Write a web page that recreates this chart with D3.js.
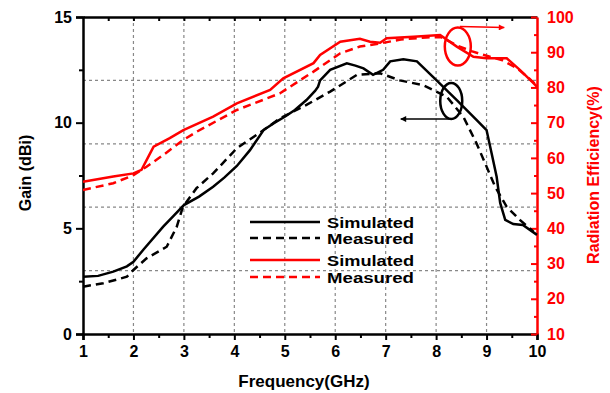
<!DOCTYPE html>
<html>
<head>
<meta charset="utf-8">
<style>
body { margin: 0; background: #fff; }
text { font-family: Arial, "Liberation Sans", sans-serif; font-weight: bold; }
</style>
</head>
<body>
<div id="chart"></div>
<script src="https://d3js.org/d3.v7.min.js"></script>
<script>
// frequency (GHz) / gain (dBi) / efficiency (%)
var gainSimF = [1, 1.3, 1.6, 1.87, 2.0, 2.2, 2.59, 2.8, 3.0, 3.3, 3.58, 3.8, 4.05, 4.31, 4.58, 4.8, 5.0, 5.2, 5.43, 5.6, 5.66, 5.7, 5.9, 6.23, 6.4, 6.56, 6.75, 6.95, 7.09, 7.35, 7.62, 8.01, 8.41, 8.8, 9.0, 9.1, 9.2, 9.27, 9.37, 9.53, 9.72, 10];
var gainSim  = [2.71, 2.75, 2.95, 3.2, 3.42, 4.0, 5.08, 5.6, 6.1, 6.5, 6.97, 7.4, 7.95, 8.7, 9.65, 10.0, 10.28, 10.6, 11.07, 11.5, 11.7, 12.0, 12.5, 12.81, 12.7, 12.57, 12.26, 12.5, 12.9, 13.0, 12.9, 12.0, 11.07, 10.13, 9.65, 8.55, 7.44, 6.2, 5.4, 5.2, 5.16, 4.69];

var gainMeasF = [1, 1.4, 1.87, 2.0, 2.26, 2.66, 2.86, 2.98, 3.25, 3.58, 4.05, 4.58, 4.9, 5.43, 5.9, 6.43, 6.89, 7.28, 7.74, 8.21, 8.54, 8.8, 9.0, 9.17, 9.4, 9.66, 9.93];
var gainMeas  = [2.24, 2.4, 2.71, 3.03, 3.58, 4.13, 5.08, 6.02, 6.9, 7.6, 8.79, 9.65, 10.2, 10.84, 11.47, 12.26, 12.34, 12.0, 11.78, 11.23, 10.28, 9.03, 7.92, 6.97, 6.02, 5.4, 4.84];

var effSimF = [1, 1.6, 2.0, 2.16, 2.33, 2.4, 2.72, 2.99, 3.58, 4.05, 4.71, 4.97, 5.57, 5.7, 6.1, 6.49, 6.69, 6.89, 7.02, 7.55, 8.08, 8.41, 8.74, 9.0, 9.4, 9.66, 9.93, 10];
var effSim  = [53.2, 54.7, 55.6, 56.6, 61.3, 63.2, 65.6, 67.9, 71.7, 75.5, 79.3, 82.6, 86.9, 89.2, 93.0, 93.8, 93.0, 92.7, 94.0, 94.4, 94.9, 91.6, 88.7, 88.3, 88.3, 85.0, 81.2, 80.2];

var effMeasF = [1, 1.6, 2.0, 2.26, 2.59, 2.99, 3.25, 4.05, 4.9, 5.57, 6.1, 6.49, 6.89, 7.3, 7.8, 8.1, 8.4, 8.7, 9.0, 9.3, 9.6, 9.85, 10];
var effMeas  = [50.9, 52.8, 55.1, 57.5, 60.8, 65.1, 67.4, 73.6, 78.3, 84.5, 89.7, 91.6, 92.5, 93.6, 94.2, 94.3, 92.0, 90.3, 89.0, 87.8, 85.5, 82.5, 80.5];

var xTicks = [1, 2, 3, 4, 5, 6, 7, 8, 9, 10];
var gainTicks = [0, 5, 10, 15];
var effTicks = [10, 20, 30, 40, 50, 60, 70, 80, 90, 100];
var gridGain = [3, 6, 9, 12];

var legendItems = [
  {label: "Simulated", color: "#000", dash: null},
  {label: "Measured", color: "#000", dash: "8,5"},
  {label: "Simulated", color: "#ff0000", dash: null},
  {label: "Measured", color: "#ff0000", dash: "8,5"}
];

var W = 610, H = 393;
var margin = {top: 17, right: 73, bottom: 59, left: 83};
var width = W - margin.left - margin.right,
    height = H - margin.top - margin.bottom;
var red = "#ff0000";

var svg = d3.select("#chart").append("svg")
    .attr("width", W).attr("height", H);
var g = svg.append("g")
    .attr("transform", "translate(" + margin.left + "," + margin.top + ")");

var x = d3.scaleLinear().domain([1, 10]).range([0, width]);
var yG = d3.scaleLinear().domain([0, 15]).range([height, 0]);
var yE = d3.scaleLinear().domain([10, 100]).range([height, 0]);

// grid
g.append("g").selectAll("line").data(xTicks.slice(1, -1)).enter().append("line")
  .attr("x1", d => x(d)).attr("x2", d => x(d))
  .attr("y1", 0).attr("y2", height)
  .attr("stroke", "#888").attr("stroke-dasharray", "3,3").attr("stroke-width", 1.2);
g.append("g").selectAll("line").data(gridGain).enter().append("line")
  .attr("x1", 0).attr("x2", width)
  .attr("y1", d => yG(d)).attr("y2", d => yG(d))
  .attr("stroke", "#888").attr("stroke-dasharray", "3,3").attr("stroke-width", 1.2);

// axes
function styleAxis(sel, color, size) {
  sel.select(".domain").attr("stroke", color).attr("stroke-width", 2.5);
  sel.selectAll(".tick line").attr("stroke", color).attr("stroke-width", 2);
  sel.selectAll(".tick text").attr("fill", color).style("font-size", size + "px");
}
var minorX = d3.range(1.5, 10, 1);

var xAxis = g.append("g").attr("transform", "translate(0," + height + ")")
  .call(d3.axisBottom(x).tickValues(xTicks).tickFormat(d3.format("d")).tickSize(6).tickPadding(6));
styleAxis(xAxis, "#000", 16);
g.append("g").attr("transform", "translate(0," + height + ")")
  .call(d3.axisBottom(x).tickValues(minorX).tickFormat("").tickSize(4))
  .call(s => { s.select(".domain").remove(); s.selectAll("line").attr("stroke", "#000").attr("stroke-width", 2); });

var topAxis = g.append("g")
  .call(d3.axisBottom(x).tickValues(d3.range(1.5, 10, 0.5)).tickFormat("").tickSize(4).tickSizeOuter(0));
styleAxis(topAxis, "#000", 16);

var yAxisL = g.append("g")
  .call(d3.axisLeft(yG).tickValues(gainTicks).tickSize(7).tickPadding(4));
styleAxis(yAxisL, "#000", 16);
g.append("g")
  .call(d3.axisLeft(yG).tickValues([2.5, 7.5, 12.5]).tickFormat("").tickSize(4))
  .call(s => { s.select(".domain").remove(); s.selectAll("line").attr("stroke", "#000").attr("stroke-width", 2); });

var yAxisR = g.append("g").attr("transform", "translate(" + width + ",0)")
  .call(d3.axisLeft(yE).tickValues(effTicks).tickSize(6).tickSizeOuter(0).tickFormat(d3.format("d")));
yAxisR.selectAll(".tick text").attr("text-anchor", "start").attr("x", 10);
styleAxis(yAxisR, red, 16);
g.append("g").attr("transform", "translate(" + width + ",0)")
  .call(d3.axisLeft(yE).tickValues(d3.range(15, 100, 10)).tickFormat("").tickSize(3))
  .call(s => { s.select(".domain").remove(); s.selectAll("line").attr("stroke", red).attr("stroke-width", 2); });

// axis titles
svg.append("text")
  .attr("x", margin.left + width / 2 - 6).attr("y", 387)
  .attr("text-anchor", "middle").style("font-size", "17px")
  .text("Frequency(GHz)");
svg.append("text")
  .attr("transform", "translate(31,173) rotate(-90)")
  .attr("text-anchor", "middle").style("font-size", "16px")
  .text("Gain (dBi)");
svg.append("text")
  .attr("transform", "translate(599,175) rotate(-90)")
  .attr("text-anchor", "middle").style("font-size", "16px").attr("fill", red)
  .text("Radiation Efficiency(%)");

// curves
function pts(fs, vs) { return fs.map((f, i) => [f, vs[i]]); }
var lineG = d3.line().x(d => x(d[0])).y(d => yG(d[1]));
var lineE = d3.line().x(d => x(d[0])).y(d => yE(d[1]));

g.append("path").datum(pts(effSimF, effSim)).attr("d", lineE)
  .attr("fill", "none").attr("stroke", red).attr("stroke-width", 2.5);
g.append("path").datum(pts(effMeasF, effMeas)).attr("d", lineE)
  .attr("fill", "none").attr("stroke", red).attr("stroke-width", 2.5).attr("stroke-dasharray", "8,5");
g.append("path").datum(pts(gainSimF, gainSim)).attr("d", lineG)
  .attr("fill", "none").attr("stroke", "#000").attr("stroke-width", 2.5);
g.append("path").datum(pts(gainMeasF, gainMeas)).attr("d", lineG)
  .attr("fill", "none").attr("stroke", "#000").attr("stroke-width", 2.5).attr("stroke-dasharray", "8,5");

// annotations: ellipses and arrows
var defs = svg.append("defs");
[["arrRed", red], ["arrBlack", "#000"]].forEach(function(m) {
  defs.append("marker").attr("id", m[0])
    .attr("viewBox", "0 0 10 10").attr("refX", 9).attr("refY", 5)
    .attr("markerWidth", 12).attr("markerHeight", 6).attr("markerUnits", "userSpaceOnUse")
    .attr("orient", "auto")
    .append("path").attr("d", "M0,0L10,5L0,10Z").attr("fill", m[1]);
});

g.append("ellipse")
  .attr("cx", x(8.43)).attr("cy", yE(91.6)).attr("rx", 13).attr("ry", 19)
  .attr("fill", "none").attr("stroke", red).attr("stroke-width", 2.5);
g.append("line")
  .attr("x1", x(8.47)).attr("y1", yE(97.3)).attr("x2", x(9.35)).attr("y2", yE(97.0))
  .attr("stroke", red).attr("stroke-width", 1.5).attr("marker-end", "url(#arrRed)");

g.append("ellipse")
  .attr("cx", x(8.3)).attr("cy", yG(11.03)).attr("rx", 11).attr("ry", 18)
  .attr("fill", "none").attr("stroke", "#000").attr("stroke-width", 2.5);
g.append("line")
  .attr("x1", x(8.3)).attr("y1", yG(10.17)).attr("x2", x(7.3)).attr("y2", yG(10.17))
  .attr("stroke", "#000").attr("stroke-width", 1.5).attr("marker-end", "url(#arrBlack)");

// legend
var legY = d3.scaleOrdinal().domain([0, 1, 2, 3]).range([227, 243, 265, 282]);
var leg = svg.append("g");
legendItems.forEach(function(d, i) {
  leg.append("line")
    .attr("x1", 250).attr("x2", 320).attr("y1", legY(i) - 5).attr("y2", legY(i) - 5)
    .attr("stroke", d.color).attr("stroke-width", 2.5)
    .attr("stroke-dasharray", d.dash);
  leg.append("text")
    .attr("x", 327).attr("y", legY(i) + 1)
    .style("font-size", "14px").attr("fill", "#000")
    .attr("textLength", 87).attr("lengthAdjust", "spacingAndGlyphs")
    .text(d.label);
});
</script>
</body>
</html>
